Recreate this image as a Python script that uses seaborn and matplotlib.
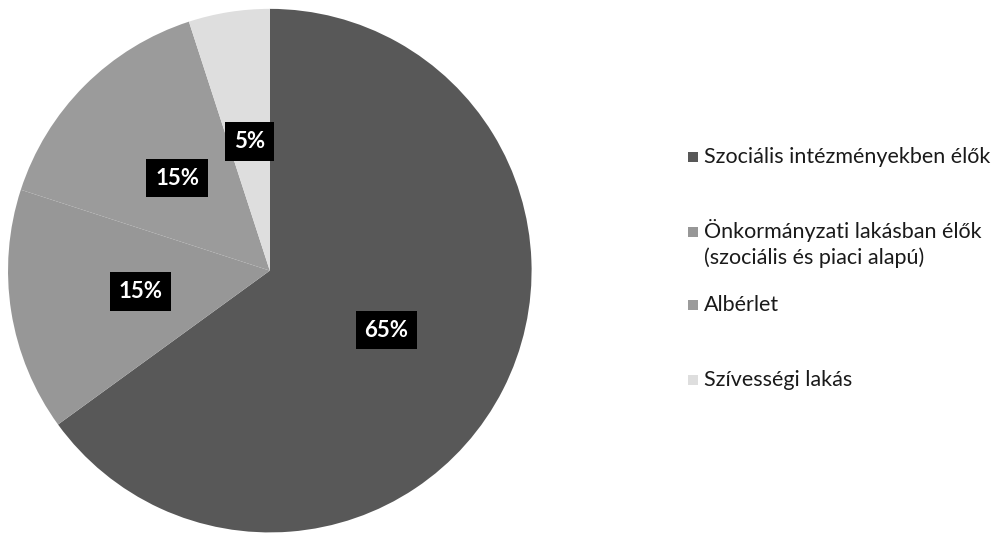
import matplotlib
matplotlib.use("Agg")
import matplotlib.pyplot as plt
import seaborn as sns
from matplotlib.patches import Rectangle

sns.set_theme(style="white")
plt.rcParams['font.family'] = ['Lato', 'DejaVu Sans']

categories = ["Szociális intézményekben élők",
              "Önkormányzati lakásban élők\n(szociális és piaci alapú)",
              "Albérlet",
              "Szívességi lakás"]
shares = [65, 15, 15, 5]
colors = ["#585858", "#979797", "#9b9b9b", "#dedede"]

fig = plt.figure(figsize=(10.03, 5.44), dpi=100)
fig.patch.set_facecolor("white")
ax = fig.add_axes([0.008, 0.015, 0.522, 0.975])

wedges, texts, autotexts = ax.pie(
    shares, colors=colors, startangle=90, counterclock=False,
    autopct=lambda p: f"{p:.0f}%", pctdistance=0.5,
    wedgeprops=dict(linewidth=0),
    textprops=dict(color="white", fontsize=16, fontweight="bold"))
for t in autotexts:
    t.set_bbox(dict(facecolor="black", edgecolor="none", boxstyle="square,pad=0.4"))
ax.set_xlim(-1, 1)
ax.set_ylim(-1, 1)
ax.set_aspect("equal")
ax.axis("off")

# legend (manual placement to mimic uneven spacing)
W, H = 1003, 544
ys = [157, 232, 305, 380]
for cat, col, y in zip(categories, colors, ys):
    fig.patches.append(Rectangle((688 / W, 1 - (y + 5) / H), 10 / W, 10 / H,
                                 transform=fig.transFigure, facecolor=col,
                                 edgecolor="none"))
    if "\n" in cat:
        fig.text(704 / W, 1 - (y - 13) / H, cat, fontsize=15.5, color="#1a1a1a",
                 va="top", ha="left", linespacing=1.35,
                 transform=fig.transFigure)
    else:
        fig.text(704 / W, 1 - y / H, cat, fontsize=15.5, color="#1a1a1a",
                 va="center", ha="left", transform=fig.transFigure)

fig.savefig("out.png", dpi=100, facecolor="white")
